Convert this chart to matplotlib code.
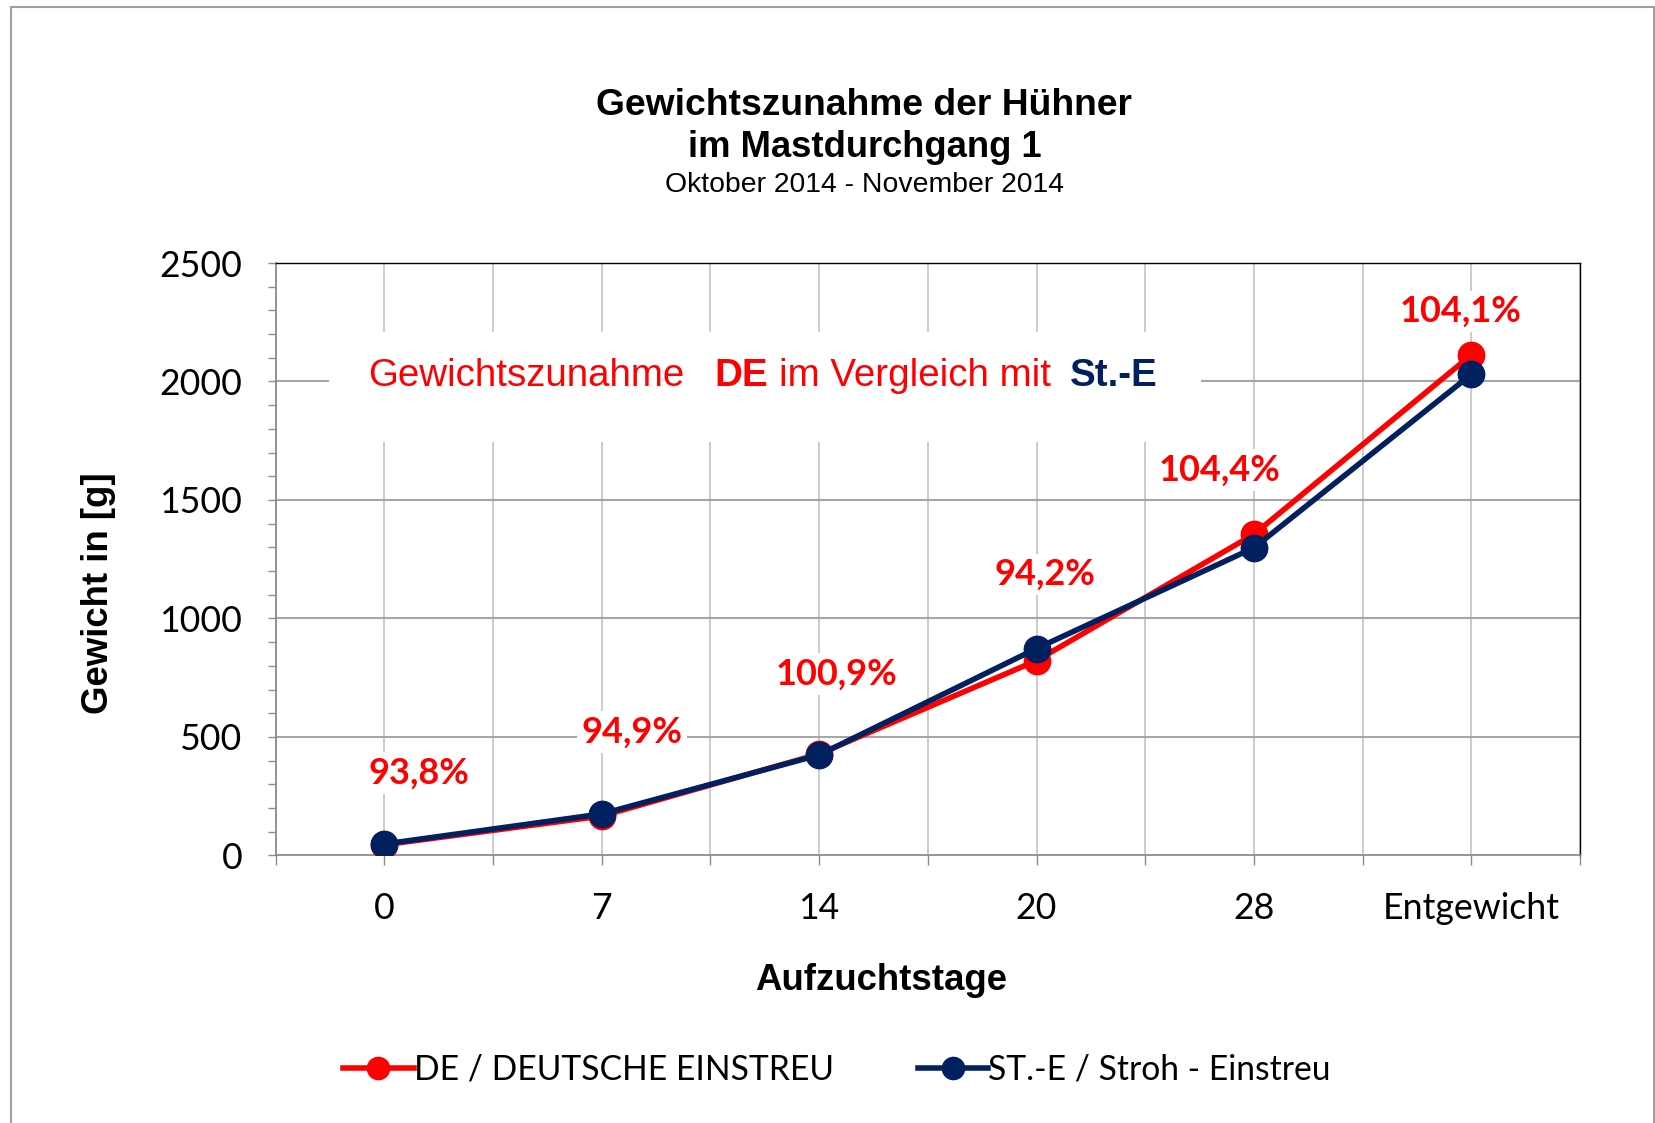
"""Gewichtszunahme der Hühner - Mastdurchgang 1 (DE vs. St.-E)."""
import matplotlib
matplotlib.use("Agg")
import matplotlib.pyplot as plt
from matplotlib.patches import Rectangle
from matplotlib.ticker import MultipleLocator, FixedLocator
from matplotlib.lines import Line2D

# --- data -----------------------------------------------------------------
categories = ["0", "7", "14", "20", "28", "Entgewicht"]
de_weight = [45, 166, 428, 822, 1355, 2112]     # DE / DEUTSCHE EINSTREU
ste_weight = [48, 175, 424, 873, 1298, 2030]    # ST.-E / Stroh - Einstreu
pct_labels = ["93,8%", "94,9%", "100,9%", "94,2%", "104,4%", "104,1%"]

# label anchor positions (layout only)
label_pos = [(0.16, 348), (1.14, 521), (2.08, 766), (3.04, 1185), (3.84, 1627), (4.95, 2295)]

RED = "#FF0000"
NAVY = "#002060"
TXT_FONT = ["Liberation Sans", "DejaVu Sans"]
NUM_FONT = ["Lato", "DejaVu Sans"]

W, H = 1656, 1123
fig = plt.figure(figsize=(W / 100, H / 100), dpi=100)

# plot area in pixels
L, R, T, B = 275.6, 1580.0, 263.0, 855.4
ax = fig.add_axes([L / W, 1 - B / H, (R - L) / W, (B - T) / H])

x = list(range(len(categories)))

# grid
ax.set_axisbelow(True)
for gx in [i * 0.5 - 0.5 for i in range(13)]:
    ax.axvline(gx, color="#c8c8c8", lw=1.3, zorder=0.5)
for gy in [500, 1000, 1500, 2000]:
    ax.axhline(gy, color="#a6a6a6", lw=1.5, zorder=0.6)

# white box behind the in-chart comparison text
ax.add_patch(Rectangle((0.0413, 0.697), 0.668, 0.187, transform=ax.transAxes,
                       facecolor="white", edgecolor="none", zorder=1))

ax.plot(x, de_weight, color=RED, lw=4, marker="o", ms=19, zorder=3)
ax.plot(x, ste_weight, color=NAVY, lw=4, marker="o", ms=19, zorder=4)

for (lx, ly), s in zip(label_pos, pct_labels):
    ax.text(lx, ly, s, color=RED, fontsize=26, fontweight="bold", family=NUM_FONT,
            ha="center", va="center", zorder=2,
            bbox=dict(boxstyle="square,pad=0.12", fc="white", ec="none"))

# comparison text with mixed colours
parts = [("Gewichtszunahme", RED, "normal", 0),
         ("DE", RED, "bold", 21.0),
         ("im Vergleich mit", RED, "normal", 8.4),
         ("St.-E", NAVY, "bold", 13.5)]
t = ax.text(0.0713, 0.809, parts[0][0], color=parts[0][1], fontweight=parts[0][2],
            fontsize=27.7, family=TXT_FONT, transform=ax.transAxes, va="center", zorder=2)
for s, c, w, gap in parts[1:]:
    t = ax.annotate(s, xy=(1, 0), xycoords=t, xytext=(gap, 0), textcoords="offset points",
                    color=c, fontweight=w, fontsize=27.7, family=TXT_FONT, va="bottom", zorder=2)

# axes
ax.set_xlim(-0.5, 5.5)
ax.set_ylim(0, 2500)
ax.xaxis.set_major_locator(FixedLocator(x))
ax.xaxis.set_minor_locator(FixedLocator([i - 0.5 for i in range(7)]))
ax.set_xticklabels(categories)
ax.yaxis.set_major_locator(MultipleLocator(500))
ax.yaxis.set_minor_locator(MultipleLocator(100))
ax.tick_params(axis="x", which="both", direction="out", length=7, width=1, color="#8c8c8c",
               pad=19.5, labelsize=25.7)
ax.tick_params(axis="y", which="both", direction="out", length=6, width=1, color="#8c8c8c",
               pad=18, labelsize=25.7)
for lab in ax.get_xticklabels() + ax.get_yticklabels():
    lab.set_family(NUM_FONT)

for side in ["top", "right"]:
    ax.spines[side].set_color("black")
    ax.spines[side].set_linewidth(1.0)
for side in ["left", "bottom"]:
    ax.spines[side].set_color("#8c8c8c")
    ax.spines[side].set_linewidth(1.3)

# titles and axis labels
fig.text(0.522, 0.906, "Gewichtszunahme der Hühner", ha="center", va="center",
         fontsize=26.8, fontweight="bold", family=TXT_FONT)
fig.text(0.522, 0.8683, "im Mastdurchgang 1", ha="center", va="center",
         fontsize=26.2, fontweight="bold", family=TXT_FONT)
fig.text(0.522, 0.8354, "Oktober 2014 - November 2014", ha="center", va="center",
         fontsize=20.4, family=TXT_FONT)
fig.text(0.0592, 0.4715, "Gewicht in [g]", rotation=90, ha="center", va="center",
         fontsize=26.4, fontweight="bold", family=TXT_FONT)
fig.text(0.5319, 0.1273, "Aufzuchtstage", ha="center", va="center",
         fontsize=26.4, fontweight="bold", family=TXT_FONT)

# legend
handles = [Line2D([0], [0], color=RED, lw=4, marker="o", ms=16),
           Line2D([0], [0], color=NAVY, lw=4, marker="o", ms=16)]
fig.legend(handles, ["DE / DEUTSCHE EINSTREU", "ST.-E / Stroh - Einstreu"],
           loc="center", bbox_to_anchor=(0.5054, 0.0474), ncol=2, frameon=False,
           prop=dict(family=NUM_FONT, size=24.2), handlelength=2.1, handletextpad=0.0,
           columnspacing=2.5)

# outer chart border
fig.patches.append(Rectangle((10.6 / W, -0.01), (1654 - 10.6) / W, 1.01 - 7.4 / H,
                             transform=fig.transFigure, fill=False,
                             edgecolor="#a0a0a0", lw=1.5))

fig.savefig("out.png", dpi=100)
